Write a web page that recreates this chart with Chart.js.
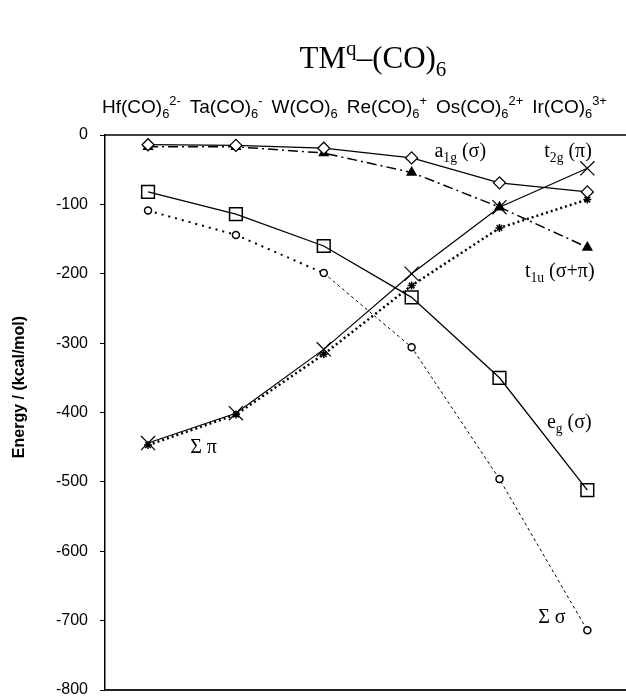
<!DOCTYPE html>
<html>
<head>
<meta charset="utf-8">
<script src="https://cdn.jsdelivr.net/npm/chart.js@4.4.0/dist/chart.umd.min.js"></script>
<style>
  html, body { margin: 0; padding: 0; background: #fff; }
  #wrap { width: 626px; height: 697px; position: relative; }
</style>
</head>
<body>
<div id="wrap"><canvas id="grafico"></canvas></div>
<script>
// Compuestos (eje superior)
const compoundBase = ['Hf(CO)', 'Ta(CO)', 'W(CO)', 'Re(CO)', 'Os(CO)', 'Ir(CO)'];
const compoundCharge = ['2-', '-', '', '+', '2+', '3+'];

// Energías (kcal/mol)
const a1g      = [-14, -15, -19, -33, -69, -82];
const t1u      = [-17, -17, -26, -54, -104, -162];
const t2g      = [-444, -401, -309, -200, -104, -48];
const sumPi    = [-447, -403, -316, -217, -134, -93];
const eg       = [-82, -114, -160, -234, -350, -512];
const sumSigma = [-109, -144, -199, -306, -496, -714];

const yMin = -800, yMax = 0, yStep = 100;
const yTitle = 'Energy / (kcal/mol)';

const SANS = "'Liberation Sans', Arial, sans-serif";
const SERIF = "'Liberation Serif', 'Times New Roman', serif";

function pts(arr) {
    return arr.map((v, i) => ({ x: i, y: v }));
}

// texto con subíndices / superíndices
function drawRich(ctx, x, y, parts, size, family, measureOnly) {
    let cx = x;
    parts.forEach(([t, mode]) => {
        const s = mode ? size * 0.68 : size;
        ctx.font = s + 'px ' + family;
        const dy = mode === 'sub' ? size * 0.26 : (mode === 'sup' ? -size * 0.42 : 0);
        if (!measureOnly) ctx.fillText(t, cx, y + dy);
        cx += ctx.measureText(t).width;
    });
    return cx - x;
}

// etiquetas de curvas (en coordenadas de datos)
const curveLabels = [
    { x: 3.26, y: -32,  parts: [['a'], ['1g', 'sub'], [' (σ)']] },
    { x: 4.51, y: -32,  parts: [['t'], ['2g', 'sub'], [' (π)']] },
    { x: 4.29, y: -205, parts: [['t'], ['1u', 'sub'], [' (σ+π)']] },
    { x: 4.54, y: -422, parts: [['e'], ['g', 'sub'], [' (σ)']] },
    { x: 0.48, y: -458, parts: [['Σ π']] },
    { x: 4.44, y: -703, parts: [['Σ σ']] }
];

const extras = {
    id: 'extras',
    afterDraw(chart) {
        const ctx = chart.ctx;
        const area = chart.chartArea;
        const xs = chart.scales.x, ys = chart.scales.y;
        ctx.save();
        ctx.fillStyle = '#000';
        ctx.textBaseline = 'alphabetic';
        ctx.textAlign = 'left';

        // marco superior e inferior
        ctx.strokeStyle = '#000';
        ctx.lineWidth = 1.5;
        ctx.beginPath();
        ctx.moveTo(area.left, area.top);
        ctx.lineTo(area.right, area.top);
        ctx.stroke();
        ctx.strokeStyle = '#222';
        ctx.lineWidth = 2;
        ctx.beginPath();
        ctx.moveTo(area.left, area.bottom);
        ctx.lineTo(area.right, area.bottom);
        ctx.stroke();

        // título
        const titleParts = [['TM'], ['q', 'sup'], ['–(CO)'], ['6', 'sub']];
        const tw = drawRich(ctx, 0, 0, titleParts, 31, SERIF, true);
        drawRich(ctx, 373 - tw / 2, 68, titleParts, 31, SERIF);

        // compuestos
        let cx = area.left - 3;
        compoundBase.forEach((b, i) => {
            const parts = [[b], ['6', 'sub']];
            if (compoundCharge[i]) parts.push([compoundCharge[i], 'sup']);
            cx += drawRich(ctx, cx, 113, parts, 19, SANS) + 9;
        });

        // etiquetas de curvas
        curveLabels.forEach(l => {
            drawRich(ctx, xs.getPixelForValue(l.x), ys.getPixelForValue(l.y), l.parts, 20, SERIF);
        });

        // título del eje y
        ctx.translate(20, 387);
        ctx.rotate(-Math.PI / 2);
        ctx.textAlign = 'center';
        ctx.textBaseline = 'middle';
        ctx.font = 'bold 16px ' + SANS;
        ctx.fillText(yTitle, 0, 0);
        ctx.restore();
    }
};

const ctx = document.getElementById('grafico').getContext('2d');
new Chart(ctx, {
    type: 'line',
    data: {
        datasets: [
            {
                label: 'a1g',
                data: pts(a1g),
                borderColor: '#000', borderWidth: 1.2,
                pointStyle: 'rectRot', pointRadius: 6,
                pointBackgroundColor: '#fff', pointBorderColor: '#000', pointBorderWidth: 1.3
            },
            {
                label: 't1u',
                data: pts(t1u),
                borderColor: '#000', borderWidth: 1.5,
                borderDash: [10, 4, 2, 4],
                pointStyle: 'triangle', pointRadius: 5,
                pointBackgroundColor: '#000', pointBorderColor: '#000'
            },
            {
                label: 't2g',
                data: pts(t2g),
                borderColor: '#000', borderWidth: 1.2,
                pointStyle: 'crossRot', pointRadius: 10,
                pointBorderColor: '#000', pointBorderWidth: 1.2
            },
            {
                label: 'Σπ',
                data: pts(sumPi),
                borderColor: '#000', borderWidth: 2.5,
                borderDash: [2, 3],
                pointStyle: 'star', pointRadius: 4,
                pointBorderColor: '#000', pointBorderWidth: 1.5
            },
            {
                label: 'eg',
                data: pts(eg),
                borderColor: '#000', borderWidth: 1.3,
                pointStyle: 'rect', pointRadius: 9,
                pointBackgroundColor: 'rgba(255,255,255,0)', pointBorderColor: '#000', pointBorderWidth: 1.5
            },
            {
                label: 'Σσ',
                data: pts(sumSigma),
                borderColor: '#000', borderWidth: 1,
                borderDash: [3, 3],
                segment: {
                    borderDash: c => c.p0DataIndex < 2 ? [2, 5] : [3, 3],
                    borderWidth: c => c.p0DataIndex < 2 ? 2 : 1
                },
                pointStyle: 'circle', pointRadius: 3.5,
                pointBackgroundColor: '#fff', pointBorderColor: '#000', pointBorderWidth: 1.5
            }
        ]
    },
    options: {
        responsive: true,
        maintainAspectRatio: false,
        animation: false,
        layout: { autoPadding: false, padding: { top: 135, right: 0, bottom: 7, left: 0 } },
        elements: { line: { tension: 0, fill: false } },
        scales: {
            x: {
                type: 'linear',
                min: -0.49,
                max: 5.44,
                display: false
            },
            y: {
                min: yMin,
                max: yMax,
                afterFit: s => {
                    s.width = 105;
                    s.paddingTop = 0;
                    s.paddingBottom = 0;
                },
                ticks: {
                    stepSize: yStep,
                    color: '#000',
                    padding: 12,
                    font: { family: SANS, size: 16 }
                },
                grid: {
                    drawOnChartArea: false,
                    drawTicks: true,
                    tickLength: 5,
                    color: '#000'
                },
                border: { display: true, color: '#000', width: 1.5 }
            }
        },
        plugins: {
            legend: { display: false },
            tooltip: { enabled: false }
        }
    },
    plugins: [extras]
});
</script>
</body>
</html>
